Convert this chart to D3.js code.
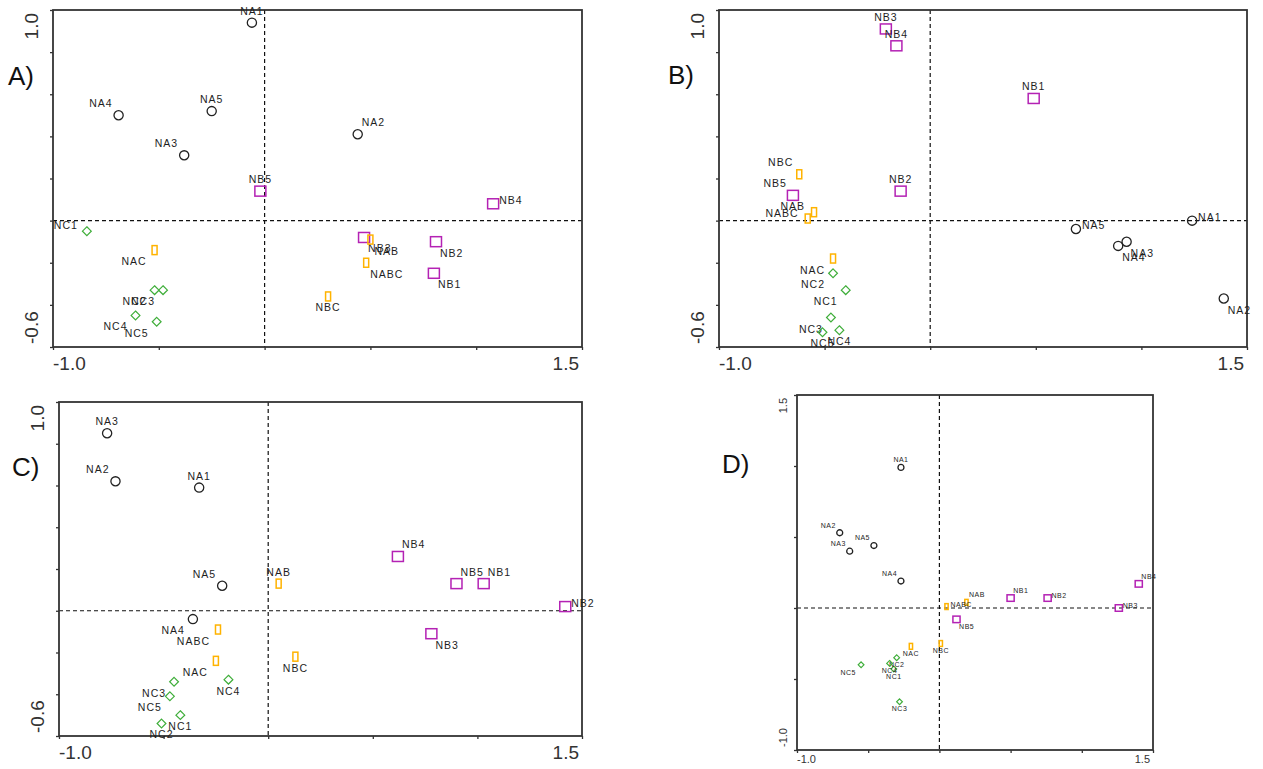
<!DOCTYPE html>
<html>
<head>
<meta charset="utf-8">
<script src="https://cdn.jsdelivr.net/npm/d3@7"></script>
<style>
body{margin:0;background:#fff}
svg{display:block}
text{font-family:"Liberation Sans",Arial,sans-serif}
</style>
</head>
<body>
<svg id="chart" width="1263" height="769"></svg>
<script>
// axis ticks and end labels
var xTicks = [-1.0, -0.5, 0, 0.5, 1.0, 1.5];
var yTicksABC = [-0.6, -0.4, -0.2, 0, 0.2, 0.4, 0.6, 0.8, 1.0];
var yTicksD = [-1.0, -0.5, 0, 0.5, 1.0, 1.5];
var xEndLabels = ["-1.0", "1.5"];
var yEndABC = ["-0.6", "1.0"];
var yEndD = ["-1.0", "1.5"];

// panel A
var namesA = ["NA1","NA2","NA3","NA4","NA5","NB1","NB2","NB3","NB4","NB5","NC1","NC2","NC3","NC4","NC5","NAB","NAC","NBC","NABC"];
var xA = [-0.06, 0.44, -0.38, -0.69, -0.25, 0.80, 0.81, 0.47, 1.08, -0.02, -0.84, -0.52, -0.48, -0.61, -0.51, 0.50, -0.52, 0.30, 0.48];
var yA = [0.94, 0.41, 0.31, 0.50, 0.52, -0.25, -0.10, -0.08, 0.08, 0.14, -0.05, -0.33, -0.33, -0.45, -0.48, -0.09, -0.14, -0.36, -0.20];
var posA = ["n","ne","nw","nw","n","se","se","se","e","n","w","sw","sw","sw","sw","se","sw","s","se"];

// panel B
var namesB = ["NA1","NA2","NA3","NA4","NA5","NB1","NB2","NB3","NB4","NB5","NC1","NC2","NC3","NC4","NC5","NAB","NAC","NBC","NABC"];
var xB = [1.24, 1.39, 0.93, 0.89, 0.69, 0.49, -0.14, -0.21, -0.16, -0.65, -0.40, -0.46, -0.47, -0.43, -0.51, -0.55, -0.46, -0.62, -0.58];
var yB = [0.00, -0.37, -0.10, -0.12, -0.04, 0.58, 0.14, 0.91, 0.83, 0.12, -0.33, -0.25, -0.46, -0.52, -0.53, 0.04, -0.18, 0.22, 0.01];
var posB = ["e","se","se","se","e","n","n","n","n","nw","sw","sw","sw","s","s","w","sw","nw","w"];

// panel C
var namesC = ["NA1","NA2","NA3","NA4","NA5","NB1","NB2","NB3","NB4","NB5","NC1","NC2","NC3","NC4","NC5","NAB","NAC","NBC","NABC"];
var xC = [-0.33, -0.73, -0.77, -0.36, -0.22, 1.03, 1.42, 0.78, 0.62, 0.90, -0.42, -0.51, -0.45, -0.19, -0.47, 0.05, -0.25, 0.13, -0.24];
var yC = [0.59, 0.62, 0.85, -0.04, 0.12, 0.13, 0.02, -0.11, 0.26, 0.13, -0.50, -0.54, -0.34, -0.33, -0.41, 0.13, -0.24, -0.22, -0.09];
var posC = ["n","nw","n","sw","nw","ne","e","se","ne","ne","s","s","sw","s","sw","n","sw","s","sw"];

// panel D
var namesD = ["NA1","NA2","NA3","NA4","NA5","NB1","NB2","NB3","NB4","NB5","NC1","NC2","NC3","NC4","NC5","NAB","NAC","NBC","NABC"];
var xD = [-0.27, -0.70, -0.63, -0.27, -0.46, 0.50, 0.76, 1.26, 1.40, 0.12, -0.32, -0.30, -0.28, -0.35, -0.55, 0.19, -0.20, 0.01, 0.05];
var yD = [0.99, 0.53, 0.40, 0.19, 0.44, 0.07, 0.07, 0.00, 0.17, -0.08, -0.43, -0.35, -0.66, -0.39, -0.40, 0.04, -0.27, -0.25, 0.01];
var posD = ["n","nw","nw","nw","nw","ne","e","e","ne","se","s","s","s","s","sw","ne","s","s","e"];

var svg = d3.select("#chart");

// label offsets: dx, dy (baseline), anchor
var OFF = {
	n:[0,-8,"middle"], s:[0,15,"middle"],
	nw:[-6,-8,"end"], ne:[4,-8,"start"],
	sw:[-8,15,"end"], se:[4,15,"start"],
	e:[6,0,"start"], w:[-9,-2,"end"]
};

var panels = [
	{tag:"A)", names:namesA, xs:xA, ys:yA, pos:posA, box:[53,582,10,347], ydom:[-0.6,1.0], yt:yTicksABC, yl:yEndABC, s:1, tagAt:[8,85]},
	{tag:"B)", names:namesB, xs:xB, ys:yB, pos:posB, box:[719,1247,10,347], ydom:[-0.6,1.0], yt:yTicksABC, yl:yEndABC, s:1, tagAt:[668,84]},
	{tag:"C)", names:namesC, xs:xC, ys:yC, pos:posC, box:[59,582,402,736], ydom:[-0.6,1.0], yt:yTicksABC, yl:yEndABC, s:1, tagAt:[12,476]},
	{tag:"D)", names:namesD, xs:xD, ys:yD, pos:posD, box:[797,1153,395,750], ydom:[-1.0,1.5], yt:yTicksD, yl:yEndD, s:0.65, tagAt:[722,473]}
];

function kind(name){
	if(/^NA\d$/.test(name)) return "circle";
	if(/^NB\d$/.test(name)) return "square";
	if(/^NC\d$/.test(name)) return "diamond";
	return "rect";
}

_draw();

function _draw(){
	panels.forEach(function(p){
		var L = p.box[0], R = p.box[1], T = p.box[2], B = p.box[3], s = p.s;
		var x = d3.scaleLinear().domain([-1.0, 1.5]).range([L, R]);
		var y = d3.scaleLinear().domain(p.ydom).range([B, T]);
		var g = svg.append("g");

		// ticks
		g.append("g")
			.attr("transform", "translate(0," + B + ")")
			.call(d3.axisBottom(x).tickValues(xTicks).tickSize(3).tickFormat(""))
			.call(function(a){ a.select(".domain").remove(); a.selectAll("line").attr("stroke","#333").attr("stroke-width",1.3); });
		g.append("g")
			.attr("transform", "translate(" + L + ",0)")
			.call(d3.axisLeft(y).tickValues(p.yt).tickSize(3).tickFormat(""))
			.call(function(a){ a.select(".domain").remove(); a.selectAll("line").attr("stroke","#333").attr("stroke-width",1.3); });

		// dashed zero lines
		g.append("line").attr("x1", x(0)).attr("x2", x(0)).attr("y1", T).attr("y2", B)
			.attr("stroke","#111").attr("stroke-width",1.2).attr("stroke-dasharray","4,3");
		g.append("line").attr("x1", L).attr("x2", R).attr("y1", y(0)).attr("y2", y(0))
			.attr("stroke","#111").attr("stroke-width",1.2).attr("stroke-dasharray","4,3");

		// frame
		g.append("rect").attr("x", L).attr("y", T).attr("width", R-L).attr("height", B-T)
			.attr("fill","none").attr("stroke","#333").attr("stroke-width",1.8);

		// end labels on axes
		var fs = s < 1 ? 11 : 19;
		var xb = s < 1 ? B + 13 : B + 23;
		g.append("text").attr("x", L).attr("y", xb).attr("font-size", fs).attr("fill","#333")
			.attr("text-anchor","start").text(xEndLabels[0]);
		g.append("text").attr("x", R - 3).attr("y", xb).attr("font-size", fs).attr("fill","#333")
			.attr("text-anchor","end").text(xEndLabels[1]);
		var yx = s < 1 ? L - 10 : L - 15;
		g.append("text").attr("transform","translate(" + yx + "," + (B - 3) + ") rotate(-90)")
			.attr("font-size", fs).attr("fill","#333").attr("text-anchor","start").text(p.yl[0]);
		g.append("text").attr("transform","translate(" + yx + "," + (T + 3) + ") rotate(-90)")
			.attr("font-size", fs).attr("fill","#333").attr("text-anchor","end").text(p.yl[1]);

		// panel tag
		svg.append("text").attr("x", p.tagAt[0]).attr("y", p.tagAt[1])
			.attr("font-size", 26).attr("fill","#111").text(p.tag);

		// points
		var pts = p.names.map(function(n, i){ return {name:n, x:p.xs[i], y:p.ys[i], pos:p.pos[i]}; });
		var mk = g.selectAll("g.pt").data(pts).enter().append("g")
			.attr("class","pt")
			.attr("transform", function(d){ return "translate(" + x(d.x) + "," + y(d.y) + ")"; });

		mk.each(function(d){
			var m = d3.select(this), k = kind(d.name);
			if(k === "circle"){
				m.append("circle").attr("r", 4.6*s).attr("fill","none").attr("stroke","#222").attr("stroke-width",1.3);
			} else if(k === "square"){
				m.append("rect").attr("x",-5.5*s).attr("y",-5*s).attr("width",11*s).attr("height",10*s)
					.attr("fill","none").attr("stroke","#b422b4").attr("stroke-width",1.5);
			} else if(k === "diamond"){
				var h = 4.4*s;
				m.append("path").attr("d","M0," + (-h) + "L" + h + ",0L0," + h + "L" + (-h) + ",0Z")
					.attr("fill","none").attr("stroke","#3fae3a").attr("stroke-width",1.2);
			} else {
				m.append("rect").attr("x",-2.5*s).attr("y",-4.5*s).attr("width",5*s).attr("height",9*s)
					.attr("fill","none").attr("stroke","#ffb300").attr("stroke-width",1.5);
			}
		});

		mk.append("text")
			.attr("x", function(d){ return OFF[d.pos][0]*s; })
			.attr("y", function(d){ return OFF[d.pos][1]*s; })
			.attr("text-anchor", function(d){ return OFF[d.pos][2]; })
			.attr("font-size", s < 1 ? 7 : 10.5)
			.attr("letter-spacing", s < 1 ? 0.5 : 1)
			.attr("fill","#1e1e1e")
			.text(function(d){ return d.name; });
	});
}
</script>
</body>
</html>
